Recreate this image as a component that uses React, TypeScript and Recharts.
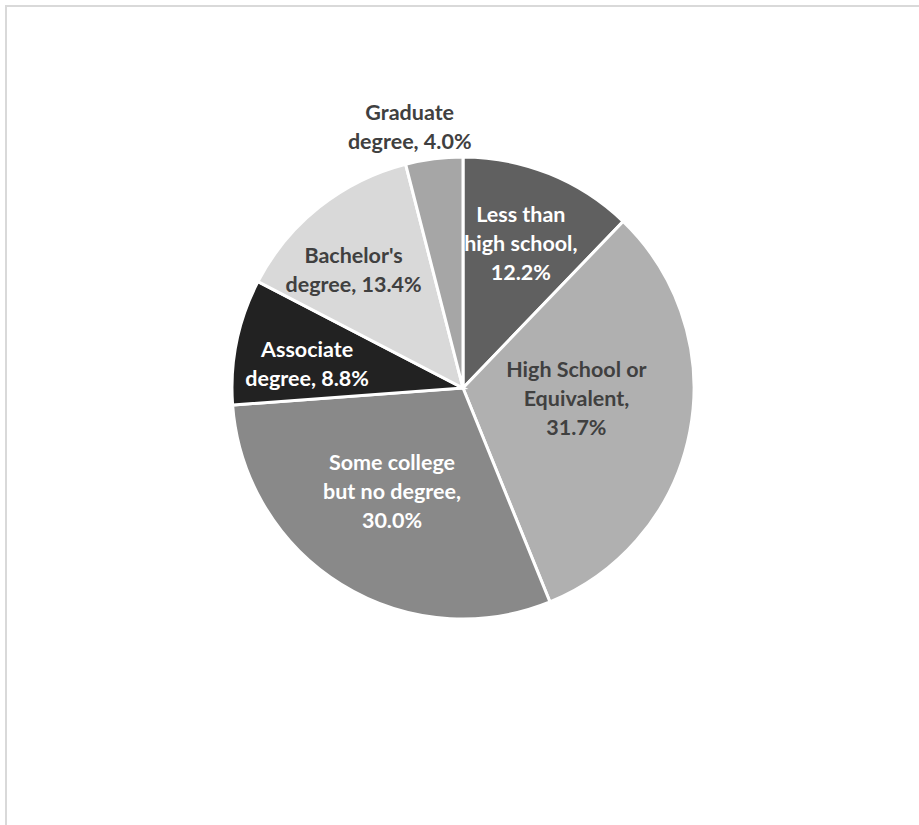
import { Cell, Pie, PieChart } from "recharts"

const categories = [
  "Less than high school",
  "High School or Equivalent",
  "Some college but no degree",
  "Associate degree",
  "Bachelor's degree",
  "Graduate degree",
]
const shares = [12.2, 31.7, 30.0, 8.8, 13.4, 4.0]
const labelLines = [
  ["Less than", "high school,", "12.2%"],
  ["High School or", "Equivalent,", "31.7%"],
  ["Some college", "but no degree,", "30.0%"],
  ["Associate", "degree, 8.8%"],
  ["Bachelor's", "degree, 13.4%"],
  ["Graduate", "degree, 4.0%"],
]

const colors = ["#606060", "#b0b0b0", "#898989", "#222222", "#d9d9d9", "#a6a6a6"]
const labelColors = ["#ffffff", "#404040", "#ffffff", "#ffffff", "#404040", "#404040"]
// label placement tweaks (radius fraction, then pixel nudge)
const labelRadius = [0.67, 0.5, 0.55, 0.68, 0.65, 1.15]
const labelNudge = [
  [0, -1],
  [0, -12],
  [-4, -5],
  [-2, 7],
  [-16, -1],
  [-20, 2],
]

const data = categories.map((name, i) => ({ name, value: shares[i] }))

const RAD = Math.PI / 180

function renderLabel(props: any) {
  const { cx, cy, midAngle, outerRadius, index } = props
  const r = outerRadius * labelRadius[index]
  const x = cx + r * Math.cos(-midAngle * RAD) + labelNudge[index][0]
  const y = cy + r * Math.sin(-midAngle * RAD) + labelNudge[index][1]
  const lines = labelLines[index]
  const lh = 29
  const y0 = y - ((lines.length - 1) * lh) / 2
  return (
    <text
      x={x}
      y={y0}
      fill={labelColors[index]}
      textAnchor="middle"
      dominantBaseline="central"
      style={{ fontFamily: "Lato, 'Open Sans', sans-serif", fontWeight: 700, fontSize: 21.5 }}
    >
      {lines.map((t, k) => (
        <tspan key={k} x={x} y={y0 + k * lh}>
          {t}
        </tspan>
      ))}
    </text>
  )
}

export default function App() {
  return (
    <div style={{ position: "absolute", left: 0, top: 0, width: 919, height: 825, overflow: "hidden", background: "#fff" }}>
      <div
        style={{
          position: "absolute",
          left: 5,
          top: 5,
          width: 930,
          height: 840,
          border: "2px solid #d9d9d9",
        }}
      />
      <div style={{ position: "absolute", left: 0, top: 0 }}>
        <PieChart width={919} height={825}>
          <Pie
            data={data}
            dataKey="value"
            nameKey="name"
            cx={458}
            cy={383}
            outerRadius={231}
            startAngle={90}
            endAngle={-270}
            stroke="#ffffff"
            strokeWidth={3}
            label={renderLabel}
            labelLine={false}
            isAnimationActive={false}
          >
            {data.map((d, i) => (
              <Cell key={d.name} fill={colors[i]} />
            ))}
          </Pie>
        </PieChart>
      </div>
    </div>
  )
}
